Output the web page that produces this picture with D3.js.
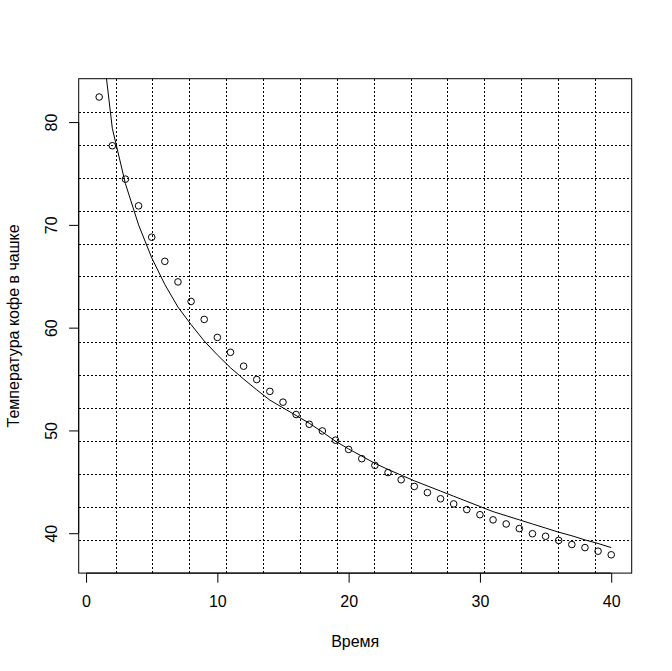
<!DOCTYPE html>
<html>
<head>
<meta charset="utf-8">
<script src="https://cdn.jsdelivr.net/npm/d3@7"></script>
<style>
  html, body { margin: 0; padding: 0; background: #fff; }
  svg { display: block; }
  text { font-family: "Liberation Sans", Arial, sans-serif; fill: #000; }
</style>
</head>
<body>
<svg id="chart" width="672" height="671"></svg>
<script>
// ---- data ----
const time = d3.range(1, 41); // 1..40
const temperature = [
  82.44, 77.7, 74.45, 71.85, 68.8, 66.45, 64.45, 62.55, 60.8, 59.05,
  57.6, 56.25, 54.95, 53.8, 52.75, 51.55, 50.6, 49.95, 49.05, 48.15,
  47.25, 46.6, 45.9, 45.2, 44.55, 43.95, 43.35, 42.85, 42.3, 41.8,
  41.3, 40.9, 40.45, 39.95, 39.7, 39.3, 38.9, 38.6, 38.25, 37.9
];
const fitted = [
  90.3, 79.4, 74.0, 70.0, 66.8, 64.2, 62.0, 60.3, 58.7, 57.35,
  56.1, 55.0, 53.95, 52.95, 52.2, 51.45, 50.7, 49.85, 48.95, 48.2,
  47.5, 46.8, 46.2, 45.65, 45.1, 44.6, 44.1, 43.6, 43.1, 42.6,
  42.1, 41.7, 41.3, 40.9, 40.5, 40.1, 39.75, 39.35, 39.0, 38.6
];
const xTicks = [0, 10, 20, 30, 40];
const yTicks = [40, 50, 60, 70, 80];
const xLabel = "Время";
const yLabel = "Температура кофе в чашке";
const gridN = 15;

// ---- layout ----
const W = 672, H = 671;
const plot = { left: 78.7, right: 631.7, top: 78.7, bottom: 573.1 };

function pad(ext) { const r = ext[1] - ext[0]; return [ext[0] - 0.04 * r, ext[1] + 0.04 * r]; }

const x = d3.scaleLinear().domain(pad(d3.extent(time))).range([plot.left, plot.right]);
const y = d3.scaleLinear().domain(pad(d3.extent(temperature))).range([plot.bottom, plot.top]);

const svg = d3.select("#chart");

svg.append("defs").append("clipPath").attr("id", "clip")
  .append("rect")
  .attr("x", plot.left).attr("y", plot.top)
  .attr("width", plot.right - plot.left).attr("height", plot.bottom - plot.top);

// grid (equal divisions of the plot region)
const gx = d3.range(1, gridN).map(i => plot.left + (plot.right - plot.left) * i / gridN);
const gy = d3.range(1, gridN).map(i => plot.top + (plot.bottom - plot.top) * i / gridN);
const grid = svg.append("g").attr("stroke", "#000").attr("stroke-width", 1)
  .attr("stroke-dasharray", "2,2").attr("shape-rendering", "crispEdges");
grid.selectAll("line.v").data(gx).join("line").attr("class", "v")
  .attr("x1", d => Math.round(d) + 0.5).attr("x2", d => Math.round(d) + 0.5)
  .attr("y1", plot.top).attr("y2", plot.bottom);
grid.selectAll("line.h").data(gy).join("line").attr("class", "h")
  .attr("y1", d => Math.round(d) + 0.5).attr("y2", d => Math.round(d) + 0.5)
  .attr("x1", plot.left).attr("x2", plot.right);

// axes
const xAxis = d3.axisBottom(x).tickValues(xTicks).tickSize(9.6).tickPadding(13).tickFormat(d3.format("d"));
const gX = svg.append("g").attr("transform", `translate(0,${plot.bottom})`).call(xAxis);
gX.select(".domain").attr("d", `M${x(xTicks[0])},0H${x(xTicks[xTicks.length - 1])}`);
gX.selectAll("text").attr("font-size", 16).attr("font-family", "Liberation Sans, Arial, sans-serif").attr("fill", "#000");
gX.selectAll("line").attr("stroke", "#000");

const yAxis = d3.axisLeft(y).tickValues(yTicks).tickSize(9.6).tickPadding(0).tickFormat(d3.format("d"));
const gY = svg.append("g").attr("transform", `translate(${plot.left},0)`).call(yAxis);
gY.select(".domain").attr("d", `M0,${y(yTicks[0])}V${y(yTicks[yTicks.length - 1])}`);
gY.selectAll("line").attr("stroke", "#000");
gY.selectAll("text")
  .attr("font-size", 16).attr("font-family", "Liberation Sans, Arial, sans-serif").attr("fill", "#000")
  .attr("x", null).attr("dy", null)
  .attr("text-anchor", "middle")
  .attr("transform", "translate(-27.5,0) rotate(-90)")
  .attr("dy", "0.35em");

// box
svg.append("rect")
  .attr("x", plot.left).attr("y", plot.top)
  .attr("width", plot.right - plot.left).attr("height", plot.bottom - plot.top)
  .attr("fill", "none").attr("stroke", "#000").attr("stroke-width", 1);

// fitted curve
const line = d3.line().x((d, i) => x(time[i])).y(d => y(d));
svg.append("path")
  .attr("clip-path", "url(#clip)")
  .attr("d", line(fitted))
  .attr("fill", "none").attr("stroke", "#000").attr("stroke-width", 1);

// points
svg.append("g").selectAll("circle").data(temperature).join("circle")
  .attr("cx", (d, i) => x(time[i])).attr("cy", d => y(d)).attr("r", 3.3)
  .attr("fill", "none").attr("stroke", "#000").attr("stroke-width", 1);

// axis titles
svg.append("text").attr("x", (plot.left + plot.right) / 2).attr("y", 646.5)
  .attr("text-anchor", "middle").attr("font-size", 16).text(xLabel);
svg.append("text")
  .attr("transform", `translate(18.5,${(plot.top + plot.bottom) / 2}) rotate(-90)`)
  .attr("text-anchor", "middle").attr("font-size", 16).text(yLabel);
</script>
</body>
</html>
